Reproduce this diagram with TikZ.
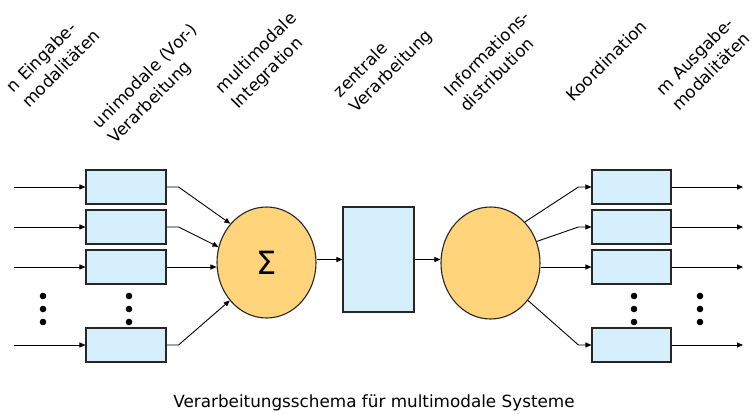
\documentclass[tikz,border=0pt]{standalone}
\usepackage{fontspec}
\setmainfont{DejaVu Sans}
\usepackage{xcolor}
\usepackage{tikz}
\usetikzlibrary{shapes.geometric, arrows.meta}

\definecolor{boxblue}{RGB}{214,239,252}
\definecolor{bubble}{RGB}{255,212,122}

\tikzset{
    block/.style={draw=black!85, line width=1.1pt, fill=boxblue, minimum width=80pt, minimum height=34pt},
    blob/.style={ellipse, draw=black!85, line width=1.1pt, fill=bubble, minimum width=99pt, minimum height=111pt},
    lbl/.style={rotate=45, anchor=base west, align=left, font=\fontsize{16.8}{22}\selectfont},
}

\begin{document}
\begin{tikzpicture}[x=1pt, y=-1pt, every node/.style={inner sep=0pt},
    >={Triangle[length=6pt,width=5pt]}, line width=0.9pt]
    \useasboundingbox (0,0) rectangle (756,414);

    % column labels (placed at the start of their last line)
    \foreach \x/\y/\t [count=\n] in {29/109/{n Eingabe-\\modalitäten},
            115/145/{unimodale (Vor-)\\Verarbeitung},
            238/110/{multimodale\\Integration},
            356/114/{zentrale\\Verarbeitung},
            467/113/{Informations-\\distribution},
            573/103/{Koordination},
            679/112/{m Ausgabe-\\modalitäten}} {
        \node[lbl] (lab\n) at (\x,\y) {\t};
    }

    % input and output rows
    \foreach \i/\y in {1/187,2/227,3/267,4/345} {
        \coordinate (e\i) at (14,\y);
        \coordinate (a\i) at (743,\y);
        \node[block] (uv\i) at (126,\y) {};
        \node[block, minimum width=79pt] (ko\i) at (631.5,\y) {};
        \draw[->] (e\i) -- (uv\i);
        \draw[->] (ko\i) -- (a\i);
    }

    \node[blob] (int) at (266.5,262.5) {\fontsize{32}{32}\selectfont Σ};
    \node[block, minimum width=71pt, minimum height=105pt] (zv) at (378.5,259.5) {};
    \node[blob, minimum height=112pt] (dist) at (490.5,263) {};

    % into the integration
    \foreach \i/\a in {1/133,2/162,4/226} {
        \draw[->] (uv\i.east) -- ++(12,0) -- (int.\a);
    }
    \draw[->] (uv3) -- (uv3 -| int.west);
    \draw[->] (int.east |- zv) -- (zv);
    \draw[->] (zv) -- (zv -| dist.west);

    % out of the distribution
    \foreach \i/\a in {1/50,2/25,4/315} {
        \draw[->] (dist.\a) -- ([xshift=-13pt]ko\i.west) -- (ko\i);
    }
    \draw[->] (dist.east |- ko3) -- (ko3);

    % dots for the further rows
    \foreach \x in {43,129,634,700} {
        \foreach \y in {296,309,322} {
            \fill (\x,\y) circle[radius=3.3pt];
        }
    }

    \node[anchor=base, font=\fontsize{16.8}{20}\selectfont] (cap) at (374,408)
        {Verarbeitungsschema für multimodale Systeme};
\end{tikzpicture}
\end{document}
